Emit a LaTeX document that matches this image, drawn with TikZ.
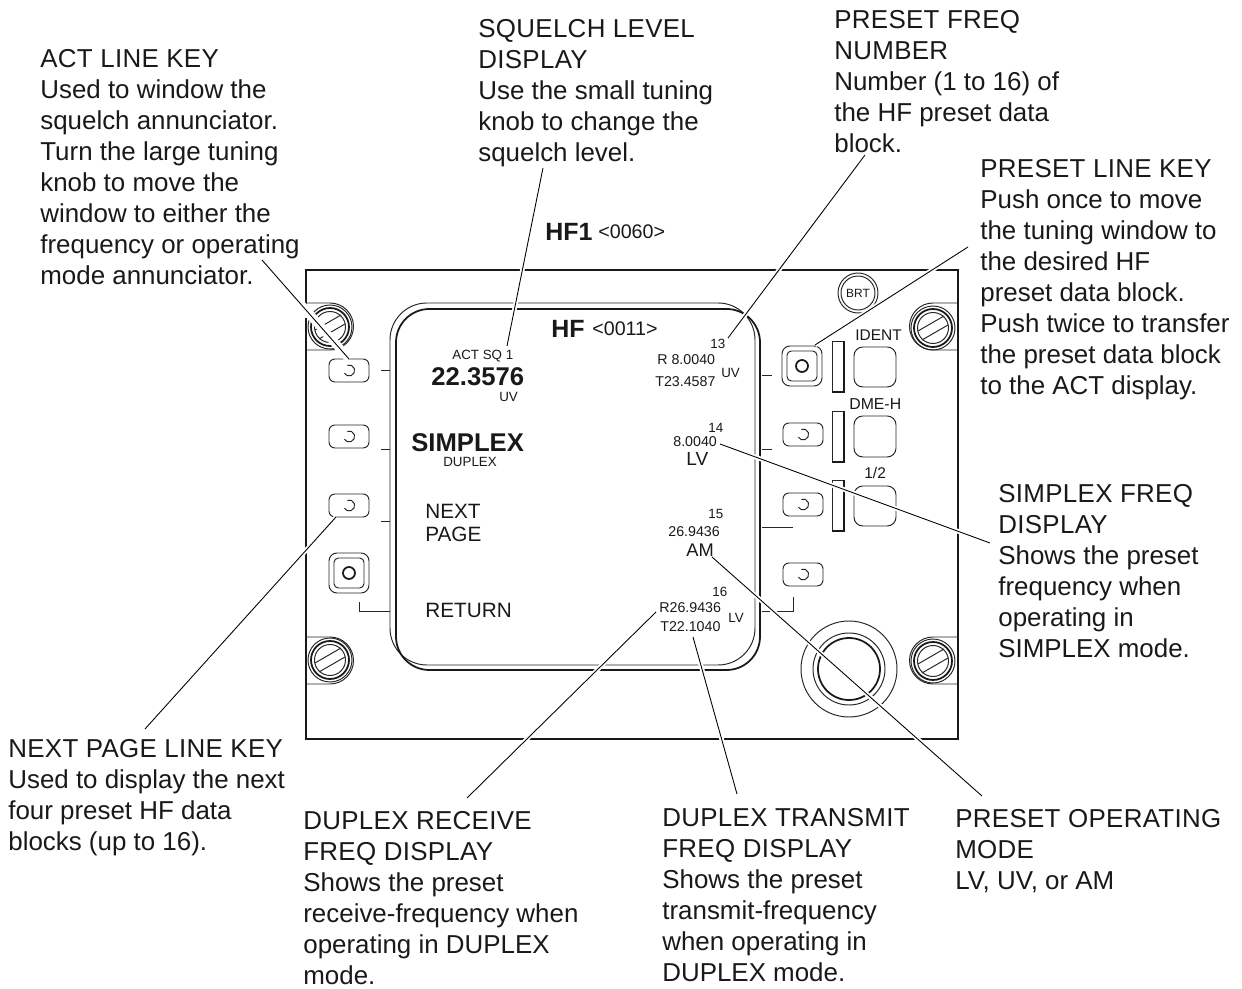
\documentclass[tikz,border=0pt]{standalone}
\usepackage{fontspec}
\setmainfont{Liberation Sans}
\newfontface\headface[LetterSpace=1.2]{Liberation Sans}
\newcommand{\fs}[1]{\fontsize{#1}{#1}\selectfont}
\newcommand{\hd}[1]{{\headface #1}}
\newcommand{\softkey}[2]{%
  \draw[thinl,rounded corners=3.4pt] (#1,#2) rectangle ++(40,23);
  \draw[thinl] (#1+18.3,#2+6.3) arc (-110:150:5.5);}
\newcommand{\selkey}[2]{%
  \draw[thinl,rounded corners=4.5pt] (#1,#2) rectangle ++(40,40);
  \draw[thinl,rounded corners=2.5pt] (#1+5,#2+5) rectangle ++(30,30);
  \draw[thickl] (#1+20,#2+20) circle (6);}
\newcommand{\screw}[2]{%
  \draw[thinl] (#1,#2) circle (22);
  \draw[thickl] (#1,#2) circle (19);
  \draw[thinl] (#1,#2) circle (15.5);
  \draw[thinl] (#1-15,#2+3) -- (#1+11,#2-12);
  \draw[thinl] (#1-11,#2+12) -- (#1+15,#2-3);}
\newcommand{\annbar}[2]{%
  \draw[thinl] (#1,#2) rectangle ++(12,51);
  \draw[thickl] (#1+12,#2) -- ++(0,51) -- ++(-12,0);}
\tikzset{
  thinl/.style={line width=0.55pt,draw=black!85},
  thickl/.style={line width=1pt,draw=black!90},
  leader/.style={line width=0.5pt,draw=black,preaction={draw=white,line width=2.6pt}},
  wideleader/.style={line width=0.5pt,draw=black,preaction={draw=white,line width=5pt}},
  lab/.style={anchor=north west,inner sep=0pt,align=left,font=\fs{14.75pt},text=black!90,
     execute at begin node={\baselineskip=17.65pt}},
  disp/.style={inner sep=0pt,text=black!90},
  small/.style={disp,font=\fs{7.6pt}},
  mid/.style={disp,font=\fs{8.1pt}},
  menu/.style={disp,anchor=west,font=\fs{11.8pt}},
}
\begin{document}
\begin{tikzpicture}[x=0.02cm,y=-0.02cm]
\useasboundingbox (0,0) rectangle (1242,989);
\fill[white] (0,0) rectangle (1242,989);
% panel
\draw[thickl] (306,270) rectangle (958,739);
% screw housings
\draw[thinl] (306,303) -- (330,303) arc (-90:90:23.5) -- (306,350);
\draw[thinl] (306,637) -- (330,637) arc (-90:90:23.5) -- (306,684);
\draw[thinl] (958,303) -- (933,303) arc (-90:-270:23.5) -- (958,350);
\draw[thinl] (958,637) -- (933,637) arc (-90:-270:23.5) -- (958,684);
\screw{330}{327}\screw{330}{660}\screw{933}{328}\screw{933}{661}
% screen
\draw[thinl,rounded corners=21pt] (390,303) rectangle (755,665);
\draw[thickl,rounded corners=19pt] (396,309) rectangle (760,670);
% left keys
\softkey{329}{359}\softkey{329}{425}\softkey{329}{494}\selkey{329}{553}
% right keys
\selkey{782}{346}\softkey{783}{423}\softkey{783}{493}\softkey{783}{563}
% ticks
\draw[thinl] (381,370) -- (390,370);
\draw[thinl] (381,449) -- (390,449);
\draw[thinl] (381,521) -- (390,521);
\draw[thinl] (359,602) -- (359,611) -- (390,611);
\draw[thinl] (762,375) -- (772,375);
\draw[thinl] (762,449) -- (772,449);
\draw[thinl] (762,527) -- (793,527);
\draw[thinl] (793,597) -- (793,611) -- (762,611);
% bars and annunciators
\annbar{832}{341}\annbar{832}{411}\annbar{832}{480}
\draw[thinl,rounded corners=5pt] (854,347) rectangle (896,387);
\draw[thinl,rounded corners=5pt] (854,416) rectangle (896,457);
\draw[thinl,rounded corners=5pt] (854,486) rectangle (896,526);
% BRT
\draw[thinl] (858,293) circle (20);
\draw[thinl] (858,293) circle (17);
\node[disp,font=\fs{6.8pt}] (brt) at (858,293) {BRT};
% knob
\draw[thinl] (849,669) circle (48);
\draw[thinl] (849,669) circle (36);
\draw[thickl] (849,669) circle (31);
% gap in the panel edge next to the first leader
\draw[draw=white,line width=2pt] (306,305) -- (306,318);
% leader ends
\coordinate (a1) at (262,260); \coordinate (a2) at (349,359);
\coordinate (b1) at (543,168); \coordinate (b2) at (507,346);
\coordinate (c1) at (865,155); \coordinate (c2) at (728,338);
\coordinate (d1) at (968,247); \coordinate (d2) at (815,345);
\coordinate (e1) at (990,543); \coordinate (e2) at (720,444);
\coordinate (f1) at (982,796); \coordinate (f2) at (712,557);
\coordinate (g1) at (737,794); \coordinate (g2) at (693,637);
\coordinate (h1) at (467,798); \coordinate (h2) at (656,612);
\coordinate (i1) at (145,729); \coordinate (i2) at (336,517);
\draw[wideleader] (a1) -- (a2);
\draw[leader] (b1) -- (b2);
\draw[leader] (c1) -- (c2);
\draw[leader] (d1) -- (d2);
\draw[leader] (e1) -- (e2);
\draw[leader] (f1) -- (f2);
\draw[leader] (g1) -- (g2);
\draw[leader] (h1) -- (h2);
\draw[leader] (i1) -- (i2);
% display text
\node[disp,anchor=west,font=\bfseries\fs{14.2pt}] (t1) at (545,232) {HF1};
\node[disp,anchor=west,font=\fs{11.2pt}] (t2) at (598,232) {<0060>};
\node[disp,anchor=west,font=\bfseries\fs{14.2pt}] (t3) at (551,329) {HF};
\node[disp,anchor=west,font=\fs{11.2pt}] (t4) at (592,329) {<0011>};
\node[small,anchor=west] (t5) at (452,356) {ACT SQ 1};
\node[disp,anchor=west,font=\bfseries\fs{14.6pt}] (t6) at (431,377) {22.3576};
\node[small,anchor=west] (t7) at (499,397) {UV};
\node[disp,anchor=west,font=\bfseries\fs{14.6pt}] (t8) at (411,443) {SIMPLEX};
\node[small,anchor=west] (t9) at (443,462) {DUPLEX};
\node[menu] (t10) at (425,511) {NEXT};
\node[menu] (t11) at (425,534) {PAGE};
\node[menu] (t12) at (425,610) {RETURN};
\node[small,anchor=west] (n13) at (710,344) {13};
\node[mid,anchor=west] (r13) at (657,360) {R 8.0040};
\node[small,anchor=west] (u13) at (721,373) {UV};
\node[mid,anchor=west] (s13) at (655,382) {T23.4587};
\node[small,anchor=west] (n14) at (708,428) {14};
\node[mid,anchor=west] (r14) at (673,442) {8.0040};
\node[disp,anchor=west,font=\fs{10.8pt}] (u14) at (686,459) {LV};
\node[small,anchor=west] (n15) at (708,514) {15};
\node[mid,anchor=west] (r15) at (668,532) {26.9436};
\node[disp,anchor=west,font=\fs{10.4pt}] (u15) at (686,550) {AM};
\node[small,anchor=west] (n16) at (712,592) {16};
\node[mid,anchor=west] (r16) at (659,608) {R26.9436};
\node[small,anchor=west] (u16) at (728,618) {LV};
\node[mid,anchor=west] (s16) at (660,627) {T22.1040};
\node[disp,anchor=west,font=\fs{8.8pt}] (k1) at (855,335) {IDENT};
\node[disp,anchor=west,font=\fs{9pt}] (k2) at (849,404) {DME-H};
\node[disp,anchor=west,font=\fs{8.8pt}] (k3) at (864,473) {1/2};
% labels
\node[lab] (l1) at (40,49) {\hd{ACT LINE KEY}\\Used to window the\\squelch annunciator.\\Turn the large tuning\\knob to move the\\window to either the\\frequency or operating\\mode annunciator.};
\node[lab] (l2) at (478,19) {\hd{SQUELCH LEVEL}\\\hd{DISPLAY}\\Use the small tuning\\knob to change the\\squelch level.};
\node[lab] (l3) at (834,10) {\hd{PRESET FREQ}\\\hd{NUMBER}\\Number (1 to 16) of\\the HF preset data\\block.};
\node[lab] (l4) at (980,159) {\hd{PRESET LINE KEY}\\Push once to move\\the tuning window to\\the desired HF\\preset data block.\\Push twice to transfer\\the preset data block\\to the ACT display.};
\node[lab] (l5) at (998,484) {\hd{SIMPLEX FREQ}\\\hd{DISPLAY}\\Shows the preset\\frequency when\\operating in\\SIMPLEX mode.};
\node[lab] (l6) at (8,739) {\hd{NEXT PAGE LINE KEY}\\Used to display the next\\four preset HF data\\blocks (up to 16).};
\node[lab] (l7) at (303,811) {\hd{DUPLEX RECEIVE}\\\hd{FREQ DISPLAY}\\Shows the preset\\receive-frequency when\\operating in DUPLEX\\mode.};
\node[lab] (l8) at (662,808) {\hd{DUPLEX TRANSMIT}\\\hd{FREQ DISPLAY}\\Shows the preset\\transmit-frequency\\when operating in\\DUPLEX mode.};
\node[lab] (l9) at (955,809) {\hd{PRESET OPERATING}\\\hd{MODE}\\LV, UV, or AM};
\end{tikzpicture}
\end{document}
